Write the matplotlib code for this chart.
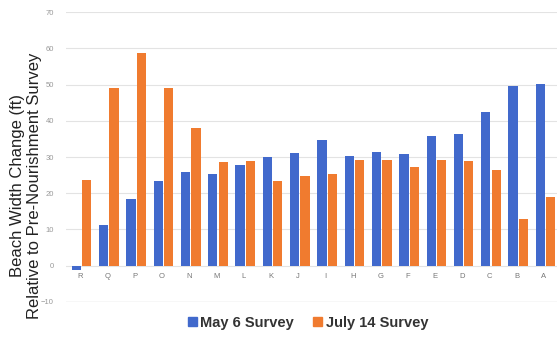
import numpy as np
import matplotlib.pyplot as plt
from matplotlib.patches import Patch

plt.rcParams['font.family'] = ['Liberation Sans', 'DejaVu Sans']

# profile stations, listed west to east as they appear on the chart
stations = ['R', 'Q', 'P', 'O', 'N', 'M', 'L', 'K', 'J', 'I',
            'H', 'G', 'F', 'E', 'D', 'C', 'B', 'A']
may6 = [-1.3, 11.2, 18.5, 23.3, 25.8, 25.3, 27.9, 29.9, 31.0, 34.8,
        30.4, 31.3, 30.9, 35.8, 36.4, 42.5, 49.5, 50.2]
july14 = [23.8, 49.0, 58.8, 49.1, 37.9, 28.6, 28.8, 23.3, 24.7, 25.3,
          29.3, 29.2, 27.3, 29.2, 28.9, 26.4, 12.9, 19.0]
yticks = [-10, 0, 10, 20, 30, 40, 50, 60, 70]

blue = '#4169cc'
orange = '#f07b2f'

fig = plt.figure(figsize=(5.57, 3.37), dpi=100)
ax = fig.add_axes([0.119, 0.104, 0.882, 0.860])

x = np.arange(len(stations))
w = 0.34
ax.bar(x - 0.13, may6, w, color=blue, zorder=2)
ax.bar(x + 0.25, july14, w, color=orange, zorder=2)

ax.set_xlim(-0.5, len(stations) - 0.5)
ax.set_ylim(-10, 70)
ax.set_yticks(yticks)
ax.grid(axis='y', color='#e3e3e3', linewidth=0.8, zorder=0)
ax.axhline(-10, color='#d0d0d0', linewidth=0.9, zorder=1)

for s in ax.spines.values():
    s.set_visible(False)
# station labels sit just under the zero line
ax.spines['bottom'].set_position(('data', 0))
ax.set_xticks(x)
ax.set_xticklabels(stations)
ax.tick_params(axis='x', length=0, pad=5, labelsize=5.5, labelcolor='#777777')
ax.tick_params(axis='y', length=0, pad=9, labelsize=5.5, labelcolor='#999999')

fig.text(0.047, 0.45, 'Beach Width Change (ft)\nRelative to Pre-Nourishment Survey',
         rotation=90, ha='center', va='center', fontsize=12,
         linespacing=1.15, color='#222222')

handles = [Patch(color=blue, label='May 6 Survey'),
           Patch(color=orange, label='July 14 Survey')]
fig.legend(handles=handles, loc='center', bbox_to_anchor=(0.553, 0.042),
           ncol=2, frameon=False, handlelength=0.6, handleheight=0.6,
           handletextpad=0.25, columnspacing=1.3,
           prop={'weight': 'bold', 'size': 10.5})
for t in fig.legends[0].get_texts():
    t.set_color('#333333')

fig.savefig('out.png', dpi=100)
